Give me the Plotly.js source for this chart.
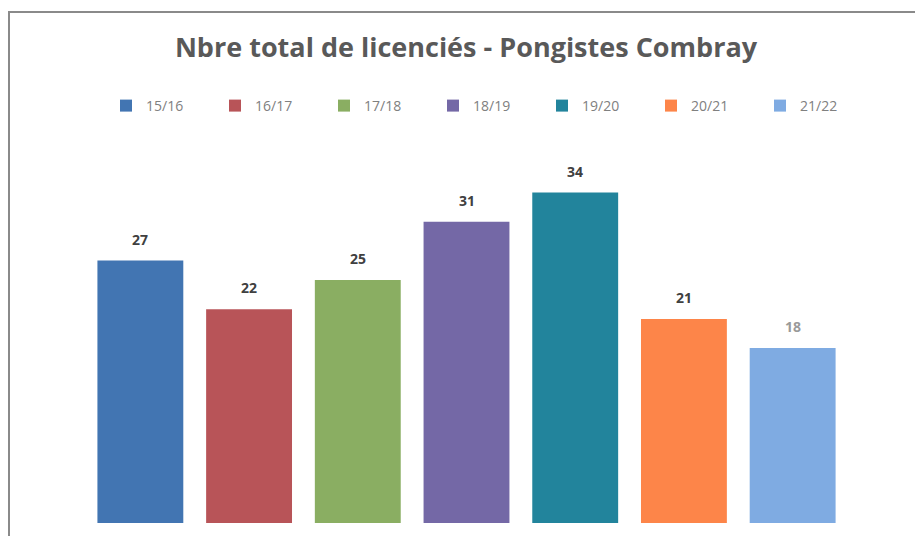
<!DOCTYPE html>
<html>
<head>
<meta charset="utf-8">
<script src="https://cdn.plot.ly/plotly-3.0.1.min.js"></script>
<style>
html,body{margin:0;padding:0;background:#fff;}
#chart{width:915px;height:536px;}
</style>
</head>
<body>
<div id="chart"></div>
<script>
// Data
const seasons = ["15/16","16/17","17/18","18/19","19/20","20/21","21/22"];
const licencies = [27, 22, 25, 31, 34, 21, 18];
const titleText = "Nbre total de licenciés - Pongistes Combray";

// Styles
const colors = ["#4275b2","#b85458","#8aae62","#7468a6","#22849c","#fd8549","#7fabe2"];
const labelColors = ["#404040","#404040","#404040","#404040","#404040","#404040","#9a9a9a"];

const W = 915, H = 536;
const m = {l:86, r:68, t:150, b:13};
const pw = W - m.l - m.r, ph = H - m.t - m.b;
const px2x = p => (p - m.l) / pw;
const py2y = p => (H - m.b - p) / ph;

const traces = seasons.map((s, i) => ({
  type: 'bar',
  name: s,
  x: [s],
  y: [licencies[i]],
  width: 0.79,
  marker: {color: colors[i]},
  hoverinfo: 'x+y'
}));

const annotations = seasons.map((s, i) => ({
  x: s, y: licencies[i], xref: 'x', yref: 'y',
  text: '<b>' + String(licencies[i]) + '</b>',
  showarrow: false, yanchor: 'bottom', yshift: 10,
  font: {family: '"Open Sans", sans-serif', size: 14, color: labelColors[i]}
}));

const borderX = px2x(9), borderY = py2y(12);
const layout = {
  width: W, height: H,
  margin: m,
  paper_bgcolor: '#ffffff',
  plot_bgcolor: '#ffffff',
  barmode: 'overlay',
  title: {
    text: '<b>' + titleText + '</b>',
    x: 466 / W, xanchor: 'center',
    y: 1 - 48 / H, yanchor: 'middle', yref: 'container',
    font: {family: '"Open Sans", sans-serif', size: 27, color: '#595959'}
  },
  showlegend: true,
  legend: {
    orientation: 'h',
    x: px2x(106), xanchor: 'left',
    y: py2y(106), yanchor: 'middle',
    entrywidth: 64, entrywidthmode: 'pixels',
    font: {family: '"Open Sans", sans-serif', size: 14, color: '#808080'},
    bgcolor: 'rgba(0,0,0,0)',
    traceorder: 'normal'
  },
  xaxis: {
    type: 'category',
    range: [-0.5, 6.5],
    showticklabels: false, showgrid: false, zeroline: false, showline: false, ticks: ''
  },
  yaxis: {
    range: [0, ph / 9.72],
    showticklabels: false, showgrid: false, zeroline: false, showline: false, ticks: ''
  },
  annotations: annotations,
  shapes: [{
    type: 'path', xref: 'paper', yref: 'paper',
    path: `M ${borderX} ${py2y(540)} L ${borderX} ${borderY} L ${px2x(930)} ${borderY}`,
    line: {color: '#8a8a8a', width: 2}
  }]
};

Plotly.newPlot('chart', traces, layout, {displayModeBar: false, staticPlot: true});
</script>
</body>
</html>
